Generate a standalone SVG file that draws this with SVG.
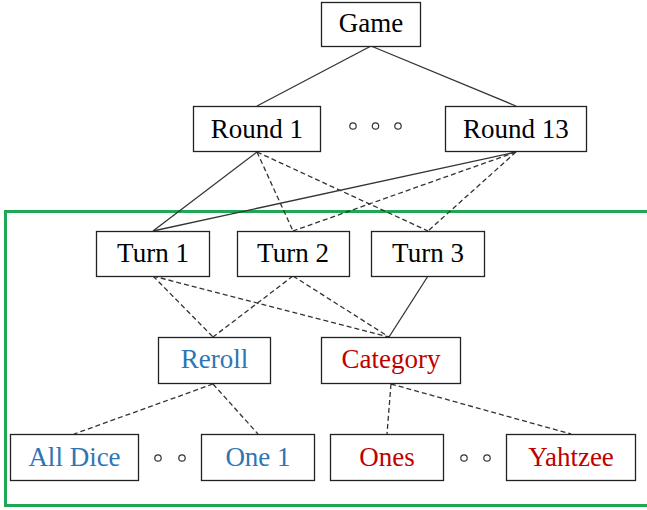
<svg xmlns="http://www.w3.org/2000/svg" width="647" height="510" viewBox="0 0 647 510">
<style>
.box{fill:#fff;stroke:#222;stroke-width:1.3}
.t{font-family:"Liberation Serif","Times New Roman",serif;font-size:27px;text-anchor:middle;fill:#000}
.blue{fill:#2e75b6}
.red{fill:#c00000}
.solid{stroke:#333;stroke-width:1.3;fill:none}
.dash{stroke:#333;stroke-width:1.3;fill:none;stroke-dasharray:5,3}
.dot{fill:#fff;stroke:#333;stroke-width:1.2}
</style>
<rect x="5.5" y="211.5" width="650" height="294" fill="none" stroke="#1fa755" stroke-width="3"/>
<g id="connectors">
<line class="solid" x1="371" y1="46" x2="257" y2="106"/>
<line class="solid" x1="371" y1="46" x2="516" y2="106"/>
<line class="solid" x1="257" y1="152" x2="153" y2="231"/>
<line class="dash" x1="257" y1="152" x2="293" y2="231"/>
<line class="dash" x1="257" y1="152" x2="428" y2="231"/>
<line class="solid" x1="516" y1="152" x2="153" y2="231"/>
<line class="dash" x1="516" y1="152" x2="293" y2="231"/>
<line class="dash" x1="516" y1="152" x2="428" y2="231"/>
<line class="dash" x1="153" y1="276" x2="213" y2="337"/>
<line class="dash" x1="153" y1="276" x2="389" y2="337"/>
<line class="dash" x1="293" y1="276" x2="213" y2="337"/>
<line class="dash" x1="293" y1="276" x2="389" y2="337"/>
<line class="solid" x1="428" y1="276" x2="389" y2="337"/>
<line class="dash" x1="213" y1="384" x2="74" y2="434"/>
<line class="dash" x1="213" y1="384" x2="258" y2="434"/>
<line class="dash" x1="391" y1="384" x2="387" y2="434"/>
<line class="dash" x1="391" y1="384" x2="571" y2="434"/>
</g>
<g id="game"><rect class="box" x="321.5" y="2.5" width="99" height="44"/><text class="t" x="371" y="32">Game</text></g>
<g id="round1"><rect class="box" x="193.5" y="106.5" width="127" height="45"/><text class="t" x="257" y="138">Round 1</text></g>
<g id="round-dots"><circle class="dot" cx="353" cy="126" r="3.2"/><circle class="dot" cx="375.5" cy="126" r="3.2"/><circle class="dot" cx="398" cy="126" r="3.2"/></g>
<g id="round13"><rect class="box" x="445.5" y="106.5" width="141" height="45"/><text class="t" x="516" y="138">Round 13</text></g>
<g id="turn1"><rect class="box" x="96.5" y="231.5" width="113" height="45"/><text class="t" x="153" y="262">Turn 1</text></g>
<g id="turn2"><rect class="box" x="237.5" y="231.5" width="112" height="45"/><text class="t" x="293" y="262">Turn 2</text></g>
<g id="turn3"><rect class="box" x="371.5" y="231.5" width="113" height="45"/><text class="t" x="428" y="262">Turn 3</text></g>
<g id="reroll"><rect class="box" x="158.5" y="337.5" width="112" height="46"/><text class="t blue" x="214.5" y="368">Reroll</text></g>
<g id="category"><rect class="box" x="321.5" y="337.5" width="139" height="46"/><text class="t red" x="391" y="368">Category</text></g>
<g id="alldice"><rect class="box" x="10.5" y="434.5" width="128" height="46"/><text class="t blue" x="74.5" y="466">All Dice</text></g>
<g id="reroll-dots"><circle class="dot" cx="158" cy="458" r="3.2"/><circle class="dot" cx="182" cy="458" r="3.2"/></g>
<g id="one1"><rect class="box" x="201.5" y="434.5" width="113" height="46"/><text class="t blue" x="258" y="466">One 1</text></g>
<g id="ones"><rect class="box" x="330.5" y="434.5" width="113" height="46"/><text class="t red" x="387" y="466">Ones</text></g>
<g id="cat-dots"><circle class="dot" cx="464" cy="458" r="3.2"/><circle class="dot" cx="487" cy="458" r="3.2"/></g>
<g id="yahtzee"><rect class="box" x="506.5" y="434.5" width="129" height="46"/><text class="t red" x="571" y="466">Yahtzee</text></g>
</svg>
